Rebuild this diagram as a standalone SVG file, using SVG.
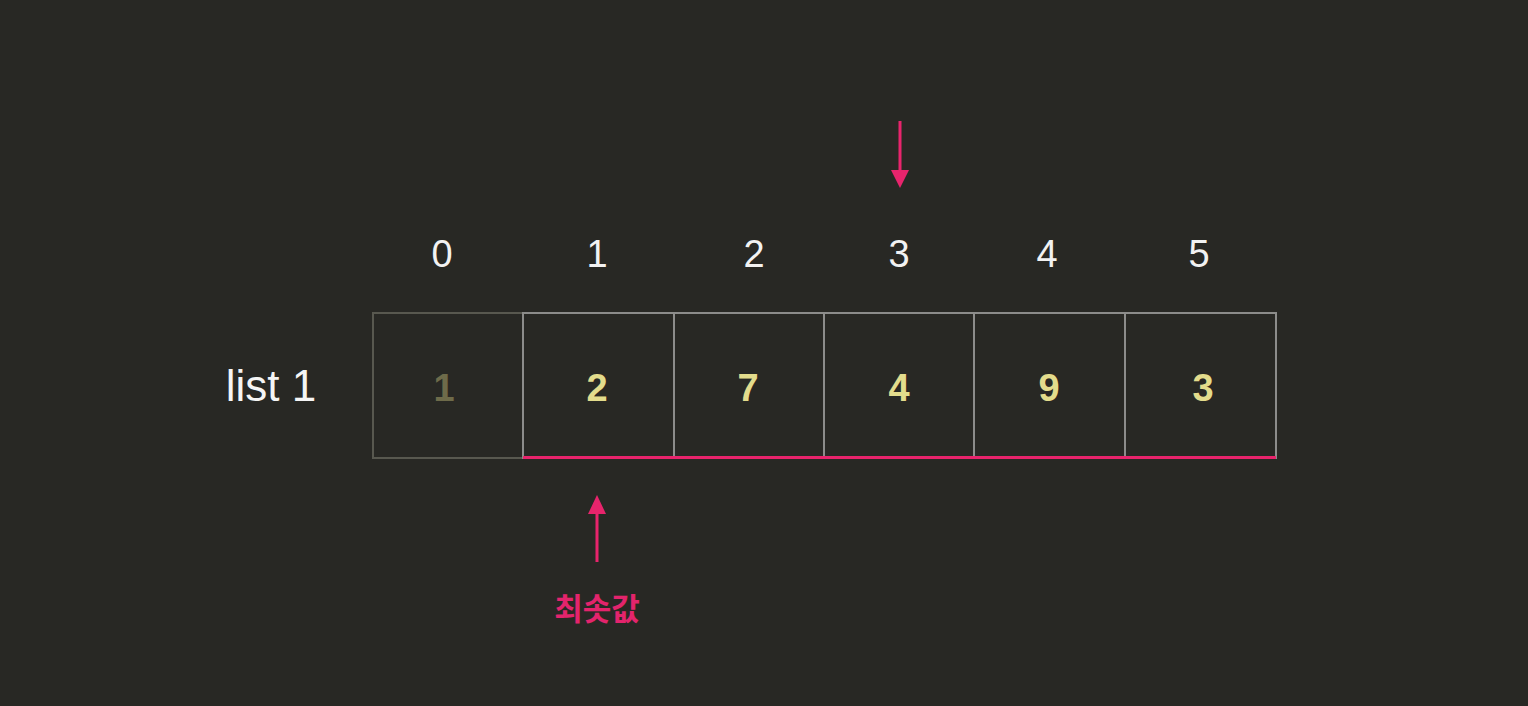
<svg xmlns="http://www.w3.org/2000/svg" width="1528" height="706" viewBox="0 0 1528 706">
<style>
.idx{font-family:"Liberation Sans",Arial,sans-serif;font-size:38px;fill:#f2f2f2;text-anchor:middle;font-weight:300}
.val{font-family:"Liberation Sans",Arial,sans-serif;font-size:38px;fill:#e3dc8c;text-anchor:middle;font-weight:bold}
.cell{fill:none;stroke:#8c8c8a;stroke-width:2}
.pink{stroke:#e8246c;stroke-width:3;fill:none}
</style>
<rect width="1528" height="706" fill="#282824"/>
<text x="271" y="401" font-family="Liberation Sans,Arial,sans-serif" font-size="44" fill="#f5f5f5" text-anchor="middle">list 1</text>
<g id="indices">
<text class="idx" x="442" y="267">0</text>
<text class="idx" x="597" y="267">1</text>
<text class="idx" x="754" y="267">2</text>
<text class="idx" x="899" y="267">3</text>
<text class="idx" x="1047" y="267">4</text>
<text class="idx" x="1199" y="267">5</text>
</g>
<g id="cell0"><rect x="373" y="313" width="150" height="145" fill="none" stroke="#58584f" stroke-width="2"/><text class="val" x="444" y="401" style="fill:#6e6b4a">1</text></g>
<g id="cell1"><rect class="cell" x="523" y="313" width="151" height="145"/><text class="val" x="597" y="401">2</text></g>
<g id="cell2"><rect class="cell" x="674" y="313" width="150" height="145"/><text class="val" x="748" y="401">7</text></g>
<g id="cell3"><rect class="cell" x="824" y="313" width="150" height="145"/><text class="val" x="899" y="401">4</text></g>
<g id="cell4"><rect class="cell" x="974" y="313" width="151" height="145"/><text class="val" x="1049" y="401">9</text></g>
<g id="cell5"><rect class="cell" x="1125" y="313" width="151" height="145"/><text class="val" x="1203" y="401">3</text></g>
<g id="connectors">
<line class="pink" x1="523" y1="457.5" x2="1276" y2="457.5"/>
<line class="pink" x1="900" y1="121" x2="900" y2="170"/>
<path d="M891,170 L909,170 L900,188 z" fill="#e8246c"/>
<line class="pink" x1="597" y1="562" x2="597" y2="514"/>
<path d="M588,514 L606,514 L597,495 z" fill="#e8246c"/>
</g>
<g id="label-min"><text x="597" y="620" font-family="Noto Sans CJK KR,sans-serif" font-size="31" font-weight="bold" fill="#e3246c" text-anchor="middle">최솟값</text></g>
</svg>
